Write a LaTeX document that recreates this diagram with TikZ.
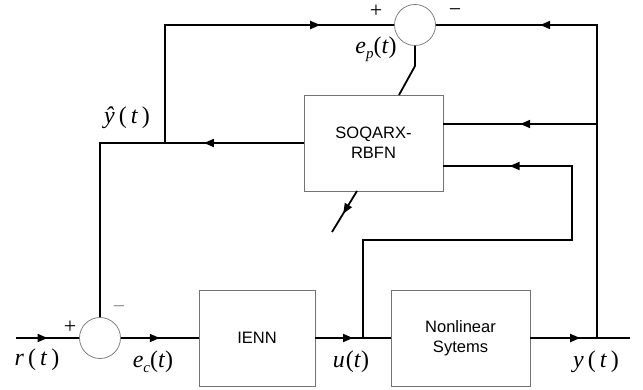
\documentclass[tikz,border=0pt]{standalone}
\usepackage{fontspec}
\setmainfont{Liberation Serif}
\newfontfamily\boxfont{Liberation Sans}
\usetikzlibrary{arrows.meta,decorations.markings}
\newcommand\lsub[1]{\raisebox{-0.22em}{\fontsize{15}{15}\selectfont\textit{#1}}}
\begin{document}
\begin{tikzpicture}[x=1pt,y=-1pt,
 wire/.style={line width=1.8pt, black, line join=miter},
 midarr/.style={postaction={decorate}, decoration={markings, mark=at position #1 with {\arrow{Triangle[length=10pt,width=8pt]}}}},
 blk/.style={draw=black!55, line width=0.7pt, minimum width=139pt, minimum height=96pt, font=\boxfont\fontsize{16.5}{20}\selectfont, align=center, inner sep=0pt},
 sumc/.style={circle, draw=black!55, line width=0.7pt, minimum size=41pt, inner sep=0pt},
 lbl/.style={font=\fontsize{24}{28}\selectfont, inner sep=0pt},
 sgn/.style={font=\fontsize{22}{24}\selectfont, inner sep=0pt}]
\useasboundingbox (0,0) rectangle (643,390);
\fill[white] (0,0) rectangle (643,390);
% nodes
\node[sumc] (P) at (415,25) {};
\node[sumc] (C) at (100,338) {};
\node[blk] (S) at (373.5,143) {SOQARX-\\RBFN};
\node[blk, minimum width=116pt] (I) at (257,338) {IENN};
\node[blk] (N) at (460.5,338) {Nonlinear\\Sytems};
% coordinates
\coordinate (in) at (16,338);
\coordinate (out) at (630,338);
\coordinate (jy) at (597,338);
\coordinate (ju) at (363,338);
\coordinate (jh) at (165,143);
\coordinate (c1) at (100,143);
\coordinate (tl) at (165,25);
\coordinate (tr) at (597,25);
\coordinate (r1) at (597,124);
\coordinate (f1) at (572,166);
\coordinate (f2) at (572,240);
\coordinate (f3) at (363,240);
\coordinate (ep1) at (415,66);
\coordinate (ep2) at (399,95);
\coordinate (a1) at (357,191);
\coordinate (a2) at (332,232);
% connectors
\draw[wire, midarr=0.5] (in) -- (C.west);
\draw[wire, midarr=0.5] (C.east) -- (I.west);
\draw[wire, midarr=0.5] (I.east) -- (N.west);
\draw[wire, midarr=0.5] (N.east) -- (out);
\draw[wire, midarr=0.78] (jy) -- (tr) -- (P.east);
\draw[wire, midarr=0.5] (r1) -- (S.east |- r1);
\draw[wire, midarr=0.87] (ju) -- (f3) -- (f2) -- (f1) -- (S.east |- f1);
\draw[wire, midarr=0.264] (S.west) -- (c1) -- (C.north);
\draw[wire, midarr=0.787] (jh) -- (tl) -- (P.west);
\draw[wire] (P.south) -- (ep1) -- (ep2);
\draw[wire, midarr=0.55] (a1) -- (a2);
% labels
\node[sgn] (pp) at (376,11) {+};
\node[sgn] (pm) at (455,13) {−};
\node[lbl] (ep) at (376,49) {\textit{e}\lsub{p}(\textit{t})};
\node[lbl] (yh) at (127,118) {\textit{\^y}\,(\,\textit{t}\,)};
\node[sgn] (cp) at (70,327) {+};
\node[sgn, text=black!45] (cm) at (119,310) {−};
\node[lbl] (rl) at (37,360) {\textit{r}\,(\,\textit{t}\,)};
\node[lbl] (ec) at (153,362) {\textit{e}\lsub{c}(\textit{t})};
\node[lbl] (ul) at (351,362) {\textit{u}\kern1pt(\textit{t})};
\node[lbl] (yl) at (596,362) {\textit{y}\,(\,\textit{t}\,)};
\end{tikzpicture}
\end{document}
